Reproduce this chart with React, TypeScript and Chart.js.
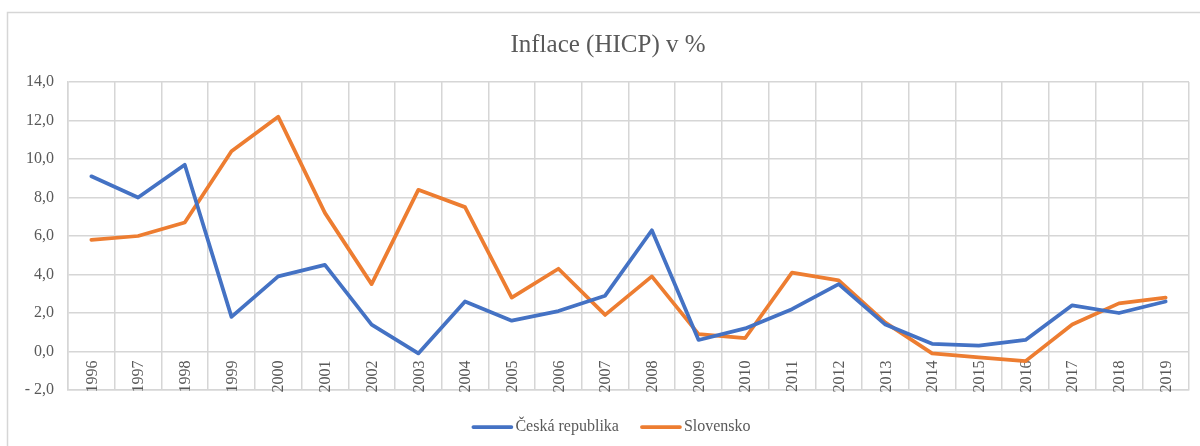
import React, { useEffect, useRef } from "react";
import { Chart, registerables } from "chart.js";

Chart.register(...registerables);

const titleText = "Inflace (HICP) v %";
const years = [
  "1996", "1997", "1998", "1999", "2000", "2001", "2002", "2003",
  "2004", "2005", "2006", "2007", "2008", "2009", "2010", "2011",
  "2012", "2013", "2014", "2015", "2016", "2017", "2018", "2019",
];
const czechName = "Česká republika";
const czech = [9.1, 8.0, 9.7, 1.8, 3.9, 4.5, 1.4, -0.1, 2.6, 1.6, 2.1, 2.9, 6.3, 0.6, 1.2, 2.2, 3.5, 1.4, 0.4, 0.3, 0.6, 2.4, 2.0, 2.6];
const slovakName = "Slovensko";
const slovakia = [5.8, 6.0, 6.7, 10.4, 12.2, 7.2, 3.5, 8.4, 7.5, 2.8, 4.3, 1.9, 3.9, 0.9, 0.7, 4.1, 3.7, 1.5, -0.1, -0.3, -0.5, 1.4, 2.5, 2.8];
const yMin = -2;
const yMax = 14;
const yStep = 2;

const FONT = "'Liberation Serif', 'Times New Roman', serif";
const TEXT = "#595959";
const GRID = "#d6d6d6";
const BLUE = "#4472C4";
const ORANGE = "#ED7D31";

const formatTick = (v: number) => {
  const s = Math.abs(v).toFixed(1).replace(".", ",");
  return v < 0 ? "- " + s : s;
};

const decorPlugin = {
  id: "decor",
  beforeDraw(chart: any) {
    const { ctx, width, height } = chart;
    ctx.save();
    ctx.fillStyle = "#ffffff";
    ctx.fillRect(0, 0, width, height);
    ctx.strokeStyle = GRID;
    ctx.lineWidth = 1.5;
    ctx.strokeRect(7.5, 12.5, 1202, 460);
    ctx.restore();
  },
  beforeDatasetsDraw(chart: any) {
    const { ctx } = chart;
    const xs = chart.scales.x;
    const ys = chart.scales.y;
    const y0 = ys.getPixelForValue(0);
    ctx.save();
    ctx.fillStyle = TEXT;
    ctx.font = `16px ${FONT}`;
    ctx.textAlign = "right";
    ctx.textBaseline = "middle";
    years.forEach((label, i) => {
      const x = xs.getPixelForValue(i);
      ctx.save();
      ctx.translate(x + 1, y0 + 9);
      ctx.rotate(-Math.PI / 2);
      ctx.fillText(label, 0, 0);
      ctx.restore();
    });
    ctx.restore();
  },
  afterDraw(chart: any) {
    const { ctx } = chart;
    ctx.save();
    ctx.fillStyle = TEXT;
    ctx.font = `25px ${FONT}`;
    ctx.textAlign = "center";
    ctx.textBaseline = "middle";
    ctx.fillText(titleText, 608, 45);
    ctx.font = `16px ${FONT}`;
    ctx.textAlign = "left";
    const items = [
      { name: czechName, color: BLUE },
      { name: slovakName, color: ORANGE },
    ];
    const lineLen = 38;
    const gapText = 4;
    const gapItem = 23;
    const widths = items.map((it) => ctx.measureText(it.name).width);
    const total = items.reduce((a, _it, i) => a + lineLen + gapText + widths[i], 0) + gapItem;
    let x = 612 - total / 2;
    const ly = 427;
    items.forEach((it, i) => {
      ctx.strokeStyle = it.color;
      ctx.lineWidth = 3.75;
      ctx.lineCap = "round";
      ctx.beginPath();
      ctx.moveTo(x, ly);
      ctx.lineTo(x + lineLen, ly);
      ctx.stroke();
      ctx.fillStyle = TEXT;
      ctx.fillText(it.name, x + lineLen + gapText, ly);
      x += lineLen + gapText + widths[i] + gapItem;
    });
    ctx.restore();
  },
};

export default function App() {
  const canvasRef = useRef<HTMLCanvasElement | null>(null);

  useEffect(() => {
    const canvas = canvasRef.current;
    if (!canvas) return;
    const chart = new Chart(canvas, {
      type: "line",
      data: {
        labels: years,
        datasets: [
          {
            label: czechName,
            data: czech,
            borderColor: BLUE,
            backgroundColor: BLUE,
            borderWidth: 3.75,
            pointRadius: 0,
            tension: 0,
            borderCapStyle: "round",
            borderJoinStyle: "round",
          },
          {
            label: slovakName,
            data: slovakia,
            borderColor: ORANGE,
            backgroundColor: ORANGE,
            borderWidth: 3.75,
            pointRadius: 0,
            tension: 0,
            borderCapStyle: "round",
            borderJoinStyle: "round",
          },
        ],
      },
      options: {
        animation: false,
        responsive: false,
        maintainAspectRatio: false,
        devicePixelRatio: 1,
        layout: { padding: { top: 82, bottom: 56, left: 0, right: 11 } },
        plugins: {
          legend: { display: false },
          title: { display: false },
          tooltip: { enabled: false },
        },
        scales: {
          x: {
            type: "category",
            offset: true,
            grid: { display: true, offset: true, color: GRID, lineWidth: 1.5, drawTicks: false },
            border: { display: true, color: GRID, width: 1.5 },
            ticks: { display: false },
            afterFit: (scale: any) => {
              scale.height = 0;
            },
          },
          y: {
            min: yMin,
            max: yMax,
            grid: { color: GRID, lineWidth: 1.5, drawTicks: false },
            border: { display: true, color: GRID, width: 1.5 },
            ticks: {
              stepSize: yStep,
              padding: 14,
              color: TEXT,
              font: { family: FONT, size: 16 },
              callback: (v: any) => formatTick(Number(v)),
            },
            afterFit: (scale: any) => {
              scale.width = 68;
            },
          },
        },
      },
      plugins: [decorPlugin],
    });
    return () => chart.destroy();
  }, []);

  return (
    <div style={{ position: "fixed", left: 0, top: 0, width: 1200, height: 446, background: "#fff" }}>
      <canvas ref={canvasRef} width={1200} height={446} style={{ display: "block", width: 1200, height: 446 }} />
    </div>
  );
}
